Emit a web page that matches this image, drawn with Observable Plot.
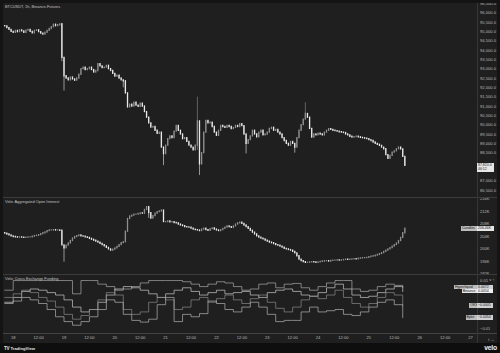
<!DOCTYPE html>
<html><head><meta charset="utf-8">
<script src="https://cdn.jsdelivr.net/npm/d3@7"></script>
<script src="https://cdn.jsdelivr.net/npm/@observablehq/plot@0.6"></script>
<style>
html,body{margin:0;padding:0;background:#121212;width:500px;height:353px;overflow:hidden;font-family:"Liberation Sans",Roboto,sans-serif}
#root{position:absolute;left:0;top:0;width:500px;height:353px;background:#141414}
#chart{position:absolute;left:3px;top:3px;width:494px;height:340px;background:#1f1f1f;overflow:hidden}
.hsep{position:absolute;left:0;width:494px;height:1.5px;background:#3b3b3b}
.vsep{position:absolute;top:0;left:474px;width:1px;height:340px;background:#363636}
.title{position:absolute;left:2px;font-size:3.9px;line-height:4px;color:#c4c4c4;white-space:nowrap}
.tag{position:absolute;font-size:3.5px;line-height:4.6px;height:4.6px;padding:0 1px;white-space:nowrap;color:#151515;box-sizing:border-box}
#footer{position:absolute;left:0;top:343px;width:500px;height:10px;background:#0e0e0e}
</style></head><body>
<div id="root"><div id="chart"></div><div id="footer"></div></div>
<script>
// ---------- data ----------
const baseDay = Date.UTC(2025, 10, 18);           // tick "18"
const firstHour = -4;                             // first hourly candle
const priceOpen0 = 95300;
const priceClose = [
 95290,95200,95100,95000,94950,
 95050,94980,95080,95020,94950,95060,95100,95000,94920,95050,95080,94980,94900,
 94850,
 94950,95050,95150,95250,95380,95300,95350,95400,
 93600,92620,
 92500,92400,92550,92450,92380,92500,
 92700,93000,93080,92950,93000,93080,92950,92820,92900,93270,93150,93050,93085,93180,93000,92900,
 92750,92600,92650,92500,92400,92350,
 91700,90950,
 91100,91000,91200,91050,90980,91150,91000,
 90700,90400,90100,89870,89900,89700,89540,89600,
 88800,88450,
 88900,89250,89400,89300,89650,89960,
 89700,89500,89250,89300,89100,88900,88800,88650,
 88900,90200,87900,88500,89600,90230,
 90100,90140,89900,89600,89430,89700,89960,89900,89850,89960,89900,89790,89850,89960,89900,90050,89950,
 89500,89000,89200,89400,
 89700,89500,89350,89600,89700,89450,89500,89600,
 89800,89860,89700,89750,89600,89500,
 89300,89150,89000,88900,89100,
 89000,88800,89300,
 89700,90000,90300,90600,90400,
 89800,89340,
 89500,89450,89550,89500,89450,
 89600,89700,89790,89750,
 89700,89680,89650,89620,89600,89580,89500,89450,89380,89340,89360,89380,89350,89320,89300,89280,89250,
 89200,89150,89070,89000,88950,88890,88800,88710,88400,
 88200,
 88350,88530,88600,88710,88800,88700,
 88300,87820
];
// [hour, high, low] for candles with visible wicks
const priceWicks = [[24,93600,91830],[52,92400,92000],[71,88800,87830],[87,91500,88650],[88,90200,87300],[110,89500,88460],[133,89000,88500],[138,91200,90300],[23,95450,93400]];

const oiOpen0 = 205.0;
const oiClose = [
 204.9,204.6,204.3,204.0,203.8,
 203.7,203.6,203.7,203.6,203.5,203.6,203.7,203.7,
 203.9,204.1,204.2,204.4,204.7,205.0,205.3,205.7,
 205.9,205.9,206.0,205.9,205.9,205.8,
 201.1,200.1,
 201.0,201.7,202.5,
 203.3,203.8,204.1,204.3,204.0,
 203.9,203.7,203.5,203.2,202.9,202.6,202.3,202.0,201.6,201.2,200.8,200.3,199.8,199.4,
 199.7,200.1,200.6,201.2,201.8,202.1,
 205.5,209.6,
 210.4,210.7,211.0,211.0,211.2,211.4,211.3,
 212.5,213.4,211.5,
 209.7,210.5,211.3,211.8,
 212.0,212.3,
 208.6,
 208.6,208.8,208.5,208.6,208.3,208.2,
 207.8,207.5,207.3,207.0,206.9,206.8,206.5,206.2,206.0,205.9,205.7,
 206.2,206.5,206.0,205.8,206.3,206.6,206.2,205.9,205.7,206.0,206.4,206.8,207.2,207.0,206.7,207.2,207.8,208.2,208.4,208.0,
 207.5,207.0,206.4,205.8,205.2,204.6,204.0,203.6,203.3,203.0,202.6,202.3,202.0,201.8,201.5,201.2,201.0,200.7,200.4,200.0,199.8,199.6,199.4,
 199.0,198.5,197.6,196.5,196.0,195.7,195.5,
 195.5,195.6,195.7,195.6,195.5,195.6,195.8,195.9,196.0,196.0,195.9,196.1,196.2,196.2,196.3,196.2,196.3,196.4,196.5,196.4,196.5,196.6,196.7,196.6,196.8,196.9,197.0,197.0,197.1,197.3,197.5,197.6,
 197.8,198.0,198.3,198.6,199.0,199.4,199.8,200.2,200.7,201.2,201.7,202.5,203.5,205.0,206.46
];
const oiWicks = [[24,201.1,195.7],[63,213.6,212.4],[64,213.4,209.8]];

const fundHours = [-4,0,4,8,12,16,20,24,28,32,36,40,44,48,52,56,60,64,68,72,76,80,84,88,92,96,100,104,108,112,116,120,124,128,132,136,140,144,148,152,156,160,164,168,172,176,180,184];
const fundHyperliquid = [0.006,0.01,0.01,0.01,0.01,0.01,0.01,0.01,0.0045,0.01,0.01,0.0085,0.0075,0.006,0.0065,0.0075,0.009,0.01,0.01,0.01,0.01,0.0095,0.0085,0.0075,0.0085,0.0095,0.009,0.0075,0.006,0.0065,0.0085,0.009,0.007,0.0085,0.0088,0.007,0.006,0.0075,0.009,0.01,0.01,0.0065,0.0055,0.006,0.0075,0.0085,0.008,0.0072];
const fundBinance = [0.001,0.003,0.0055,0.0065,0.006,0.005,0.004,0.002,-0.001,-0.003,-0.002,0.001,0.004,0.0065,0.0075,0.007,0.006,0.0045,0.003,0.0045,0.006,0.007,0.0055,0.004,0.005,0.006,0.0045,0.005,0.0055,0.004,0.003,0.005,0.006,0.0065,0.0055,0.004,0.0035,0.005,0.007,0.0085,0.0065,0.004,0.003,0.0035,0.005,0.0065,0.0075,0.0054];
const fundOKX = [0.003,0.0045,0.006,0.005,0.003,0.0015,-0.001,-0.004,-0.006,-0.0045,-0.002,0.002,0.005,0.004,-0.002,-0.004,-0.003,0.001,0.003,0.002,-0.002,-0.001,0.002,0.003,0.001,0.0025,0.004,0.002,0.0005,0.0025,0.004,0.001,-0.0015,-0.003,-0.001,0.002,0.0035,0.0025,0.004,0.006,0.003,0.0005,-0.001,0.0005,0.003,0.005,0.004,-0.0005];
const fundBybit = [0.0005,0.0015,0.003,0.002,0.0005,-0.002,-0.005,-0.007,-0.0085,-0.007,-0.005,-0.002,0.002,0.001,-0.004,-0.0065,-0.0072,-0.006,0.0,0.003,-0.007,-0.004,-0.005,-0.0037,0.0015,0.0005,-0.002,-0.003,-0.001,0.001,-0.001,-0.004,-0.007,-0.0065,-0.0065,-0.003,-0.001,-0.003,-0.0025,-0.002,-0.004,-0.0045,-0.003,-0.001,0.001,0.002,0.0,-0.0054];

// 88,000 and 87,500 are hidden behind the last-price tag in the reference
const priceTicks = [86500,87000,88500,89000,89500,90000,90500,91000,91500,92000,92500,93000,93500,94000,94500,95000,95500,96000,96500];
const oiTicks = [192,196,200,204,208,212,216];
const fundTicks = [0.01,-0.01];
const timeTickHours = [0,12,24,36,48,60,72,84,96,108,120,132,144,156,168,180,192,204,216];
const seriesNames = ["Hyperliquid","Binance","OKX","Bybit"];
const countdown = "46:12";

// ---------- helpers ----------
const T = h => new Date(baseDay + h * 3600e3);
const xDomain = [T(-4.58), T(219.32)];
const UP = "#8e8e8e", DOWN = "#e9e9e9";
function buildCandles(closes, open0, wicks) {
  return closes.map((c, i) => {
    const h = firstHour + i;
    const o = i ? closes[i - 1] : open0;
    const w = wicks.find(w => w[0] === h);
    return {t: T(h), open: o, close: c,
      high: w ? w[1] : Math.max(o, c), low: w ? w[2] : Math.min(o, c),
      col: c >= o ? UP : DOWN};
  });
}
const priceData = buildCandles(priceClose, priceOpen0, priceWicks);
const oiData = buildCandles(oiClose, oiOpen0, oiWicks);
const fundSeries = [fundHyperliquid, fundBinance, fundOKX, fundBybit];
const fundColors = ["#a9a9a9", "#c9c9c9", "#8a8a8a", "#b3b3b3"];
const fundData = fundSeries.flatMap((s, k) => s.map((v, i) => ({t: T(fundHours[i]), v, s: seriesNames[k]})));

const baseStyle = {background: "transparent", color: "#b9b9b9", fontSize: "4.1px", fontFamily: "Liberation Sans, Roboto, sans-serif", overflow: "visible"};
const chart = document.getElementById("chart");
function place(svg, top) { svg.style.position = "absolute"; svg.style.left = "0px"; svg.style.top = top + "px"; chart.appendChild(svg); return svg; }

function candleMarks(data) {
  return [
    Plot.ruleX(data, {x: "t", y1: "low", y2: "high", stroke: "col", strokeWidth: 0.6}),
    Plot.ruleX(data, {x: "t", y1: "open", y2: "close", stroke: "col", strokeWidth: 1.3, strokeLinecap: "square"})
  ];
}

// ---------- price pane ----------
const pricePlot = Plot.plot({
  width: 494, height: 194, marginTop: 0, marginBottom: 0, marginLeft: 0, marginRight: 20,
  style: baseStyle,
  x: {type: "utc", domain: xDomain, axis: null},
  y: {domain: [86125, 96516]},
  marks: [
    Plot.axisY(priceTicks, {anchor: "right", tickSize: 0, tickPadding: 2.5, tickFormat: d3.format(",.1f")}),
    ...candleMarks(priceData)
  ]
});
place(pricePlot, 0);

// ---------- OI pane ----------
const oiPlot = Plot.plot({
  width: 494, height: 76, marginTop: 0, marginBottom: 0, marginLeft: 0, marginRight: 20,
  style: baseStyle,
  x: {type: "utc", domain: xDomain, axis: null},
  y: {domain: [191.72, 216.19]},
  marks: [
    Plot.axisY(oiTicks, {anchor: "right", tickSize: 0, tickPadding: 2.5, tickFormat: d => d + "K"}),
    ...candleMarks(oiData)
  ]
});
place(oiPlot, 195);

// ---------- funding pane ----------
const fundPlot = Plot.plot({
  width: 494, height: 68, marginTop: 0, marginBottom: 10, marginLeft: 0, marginRight: 20,
  style: baseStyle,
  x: {type: "utc", domain: xDomain},
  y: {domain: [-0.01193, 0.01209]},
  color: {domain: seriesNames, range: fundColors},
  marks: [
    Plot.axisY(fundTicks, {anchor: "right", tickSize: 0, tickPadding: 2.5, tickFormat: d3.format(".2f")}),
    Plot.axisX(timeTickHours.map(T), {anchor: "bottom", tickSize: 0, tickPadding: 3,
      tickFormat: d => d.getUTCHours() === 0 ? String(d.getUTCDate()) : "12:00"}),
    Plot.line(fundData, {x: "t", y: "v", z: "s", stroke: "s", curve: "step-after", strokeWidth: 0.7})
  ]
});
place(fundPlot, 272);

// ---------- separators & titles ----------
function div(cls, css, text) { const d = document.createElement("div"); d.className = cls; Object.assign(d.style, css); if (text != null) d.textContent = text; chart.appendChild(d); return d; }
div("hsep", {top: "193.5px"});
div("hsep", {top: "270.5px"});
div("hsep", {top: "329.5px", background: "#444"});
div("vsep", {});
div("title", {top: "2px"}, "BTCUSDT, 1h, Binance-Futures");
div("title", {top: "197px"}, "Velo: Aggregated Open Interest");
div("title", {top: "274px"}, "Velo: Cross Exchange Funding");

// ---------- last-value tags (positioned with the plots' own scales) ----------
const yP = pricePlot.scale("y"), yO = oiPlot.scale("y"), yF = fundPlot.scale("y");
const lastPrice = priceClose[priceClose.length - 1];
const pTop = yP.apply(lastPrice) - 2.6;
const pt = div("tag", {left: "474px", top: pTop + "px", width: "17px", height: "9px", background: "#e6e6e6", lineHeight: "4.3px", paddingTop: "0.3px"});
pt.innerHTML = d3.format(",.1f")(lastPrice) + "<br>" + countdown;

const lastOI = oiClose[oiClose.length - 1];
const oy = 195 + yO.apply(lastOI) - 2.3;
div("tag", {left: "458px", top: oy + "px", width: "16px", background: "#bdbdbd"}, "Candles");
div("tag", {left: "474px", top: oy + "px", width: "17px", background: "#e6e6e6"}, lastOI.toFixed(2) + "K");

fundSeries.forEach((s, k) => {
  const v = s[s.length - 1];
  const fy = 272 + yF.apply(v) - 2.3;
  const nameW = seriesNames[k].length * 1.9 + 2;
  div("tag", {left: (474 - nameW) + "px", top: fy + "px", width: nameW + "px", background: k === 1 ? "#e6e6e6" : "#bdbdbd"}, seriesNames[k]);
  div("tag", {left: "474px", top: fy + "px", width: "16px", background: k === 1 ? "#f0f0f0" : "#d0d0d0"}, (v < 0 ? "\u2212" : "") + Math.abs(v).toFixed(4));
});

// ---------- footer ----------
const footer = document.getElementById("footer");
footer.innerHTML = '<div style="position:absolute;left:4px;top:2.5px;font-size:4.2px;line-height:5px;color:#e0e0e0;font-weight:bold;white-space:nowrap"><span style="font-size:4.6px;letter-spacing:-0.3px">TV</span> TradingView</div>' +
  '<div style="position:absolute;right:3px;top:1px;font-size:6.8px;line-height:8px;color:#f2f2f2;font-weight:bold;letter-spacing:-0.2px">velo</div>';
</script>
</body></html>
